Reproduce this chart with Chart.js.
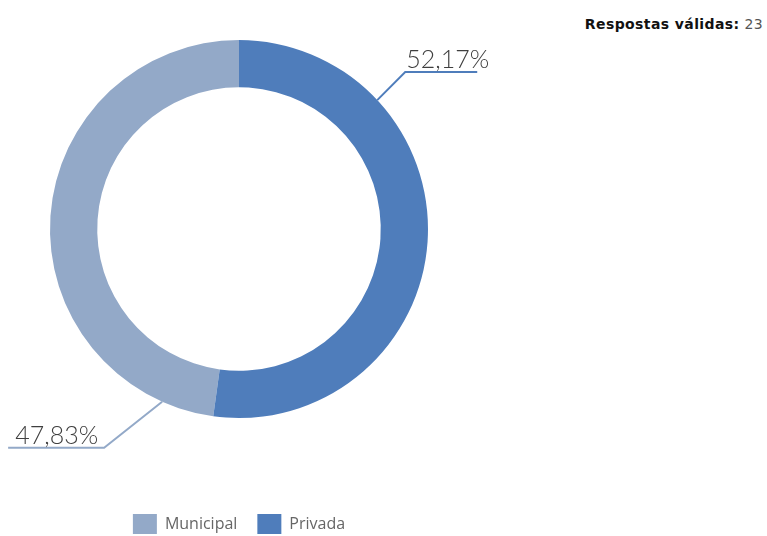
<!DOCTYPE html>
<html>
<head>
<meta charset="utf-8">
<script src="https://cdn.jsdelivr.net/npm/chart.js@4/dist/chart.umd.min.js"></script>
<style>
    html, body { margin: 0; padding: 0; background: #fff; overflow: hidden; }
    body { width: 767px; height: 536px; position: relative; }
    #wrap { position: absolute; left: 0; top: -36px; width: 520px; height: 580px; }
    #total { position: absolute; right: 4px; top: 16px; font: 14px "DejaVu Sans", sans-serif; color: #555; letter-spacing: 0.4px; }
    #total b { color: #111; font-weight: 700; }
</style>
</head>
<body>
<div id="total"><b>Respostas válidas:</b> 23</div>
<div id="wrap"><canvas id="schoolChart"></canvas></div>
<script>
    // Respostas por tipo de escola
    const categories = ["Municipal", "Privada"];
    const responses = [11, 12];
    const colors = ["#93a9c8", "#4f7dbb"];

    const total = responses.reduce((a, b) => a + b, 0);

    function pct(v) {
        return (v / total * 100).toFixed(2).replace(".", ",") + "%";
    }

    // leader line per slice: anchor angle (deg, clockwise from top), elbow offset, horizontal run
    const leaders = [
        { angle: 204, dx: -58, dy: 46, run: -96 },
        { angle: 47, dx: 28, dy: -28, run: 72 }
    ];

    const leaderLabels = {
        id: "leaderLabels",
        afterDatasetsDraw(chart) {
            const ctx = chart.ctx;
            const meta = chart.getDatasetMeta(0);
            meta.data.forEach(function (arc, i) {
                const l = leaders[i];
                const a = l.angle * Math.PI / 180;
                const x0 = arc.x + arc.outerRadius * Math.sin(a);
                const y0 = arc.y - arc.outerRadius * Math.cos(a);
                const x1 = x0 + l.dx, y1 = y0 + l.dy;
                ctx.save();
                ctx.strokeStyle = colors[i];
                ctx.lineWidth = 2;
                ctx.beginPath();
                ctx.moveTo(x0, y0);
                ctx.lineTo(x1, y1);
                ctx.lineTo(x1 + l.run, y1);
                ctx.stroke();
                ctx.fillStyle = "#3f3f3f";
                ctx.font = "300 25px Lato, sans-serif";
                ctx.textBaseline = "alphabetic";
                if (l.run > 0) {
                    ctx.textAlign = "left";
                    ctx.fillText(pct(responses[i]), x1 + 1, y1 - 4);
                } else {
                    ctx.textAlign = "right";
                    ctx.fillText(pct(responses[i]), x1 - 6, y1 - 4);
                }
                ctx.restore();
            });
        }
    };

    new Chart(document.getElementById("schoolChart"), {
        type: "doughnut",
        data: {
            labels: categories,
            datasets: [{
                data: responses,
                backgroundColor: colors,
                borderWidth: 0,
                radius: 189,
                cutout: "75%",
                rotation: responses[1] / total * 360
            }]
        },
        options: {
            responsive: true,
            maintainAspectRatio: false,
            animation: false,
            layout: { padding: { left: 0, right: 42, top: 0, bottom: 0 } },
            plugins: {
                tooltip: { enabled: false },
                legend: {
                    position: "bottom",
                    labels: {
                        boxWidth: 24,
                        boxHeight: 20,
                        padding: 20,
                        color: "#666",
                        font: { family: "'Open Sans', sans-serif", size: 16 }
                    }
                }
            }
        },
        plugins: [leaderLabels]
    });
</script>
</body>
</html>
